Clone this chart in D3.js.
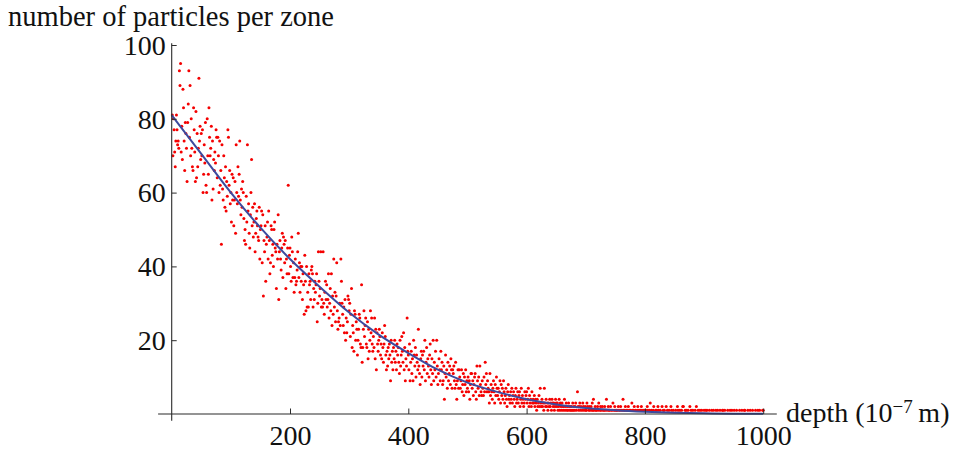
<!DOCTYPE html>
<html>
<head>
<meta charset="utf-8">
<script src="https://cdn.jsdelivr.net/npm/d3@7"></script>
<style>
  html, body { margin: 0; padding: 0; background: #fff; }
  svg text { font-family: "Liberation Serif", "Times New Roman", serif; fill: #111; }
</style>
</head>
<body>
<div id="chart"></div>
<script>
// particles counted per depth zone, zone depth = index + 1 (units of 1e-7 m)
var particleCounts = [
    81, 70, 80, 77, 71, 67, 74, 81, 77, 73, 74, 72, 93, 89, 95, 71, 78, 69, 88, 83, 74, 66, 79, 76, 72,
    63, 79, 84, 93, 75, 89, 70, 80, 72, 67, 66, 83, 77, 71, 63, 82, 64, 76, 67, 72, 91, 74, 78, 69, 76,
    70, 77, 60, 65, 73, 68, 79, 62, 60, 80, 70, 65, 83, 75, 70, 72, 78, 58, 74, 61, 69, 66, 71, 68, 77,
    75, 64, 75, 70, 60, 74, 62, 66, 46, 73, 61, 58, 70, 64, 56, 67, 55, 63, 59, 77, 75, 62, 66, 57, 60,
    52, 65, 58, 64, 51, 58, 63, 49, 73, 60, 57, 67, 59, 65, 74, 58, 54, 61, 56, 63, 60, 53, 47, 50, 46,
    59, 52, 73, 55, 57, 49, 45, 54, 60, 69, 51, 56, 48, 52, 57, 44, 49, 53, 55, 51, 48, 47, 56, 42, 50,
    51, 55, 41, 54, 32, 47, 44, 51, 36, 46, 48, 52, 42, 55, 47, 38, 41, 51, 50, 43, 46, 40, 50, 52, 45,
    44, 34, 46, 42, 54, 31, 44, 47, 42, 39, 45, 49, 37, 48, 46, 41, 47, 34, 42, 38, 45, 62, 38, 43, 45,
    40, 36, 48, 44, 37, 41, 33, 37, 42, 35, 36, 39, 44, 49, 37, 41, 33, 40, 36, 40, 31, 38, 35, 27, 43,
    36, 28, 40, 29, 33, 29, 38, 35, 36, 31, 39, 40, 38, 29, 34, 31, 36, 33, 35, 38, 25, 30, 44, 36, 32,
    34, 44, 29, 31, 29, 44, 30, 27, 33, 36, 31, 35, 29, 31, 38, 26, 30, 34, 28, 38, 24, 32, 27, 42, 29,
    33, 25, 32, 41, 28, 23, 25, 26, 30, 24, 42, 36, 30, 27, 24, 29, 22, 31, 20, 26, 22, 25, 32, 31, 28,
    30, 21, 27, 34, 18, 24, 22, 17, 28, 27, 20, 25, 23, 16, 20, 23, 27, 26, 19, 18, 35, 14, 18, 23, 28,
    21, 24, 26, 19, 18, 25, 15, 23, 17, 20, 28, 22, 26, 19, 17, 21, 18, 26, 15, 23, 12, 22, 19, 17, 20,
    23, 21, 16, 19, 15, 22, 18, 14, 19, 24, 21, 16, 12, 17, 13, 18, 15, 19, 16, 9, 20, 14, 17, 12, 18,
    15, 20, 14, 17, 12, 19, 16, 18, 14, 11, 20, 13, 16, 21, 17, 14, 22, 12, 18, 9, 15, 13, 26, 17, 16,
    12, 19, 9, 14, 17, 11, 15, 9, 20, 16, 13, 18, 10, 16, 14, 12, 23, 13, 11, 8, 15, 17, 10, 16, 13,
    17, 12, 20, 9, 14, 18, 11, 15, 13, 10, 16, 19, 12, 8, 15, 11, 20, 9, 14, 12, 17, 10, 20, 13, 8,
    11, 15, 12, 9, 17, 12, 14, 8, 9, 13, 4, 11, 16, 10, 12, 7, 14, 9, 11, 13, 8, 15, 12, 7, 12,
    11, 13, 9, 7, 14, 8, 4, 9, 12, 7, 12, 10, 7, 9, 12, 6, 8, 11, 5, 10, 8, 12, 6, 9, 7,
    10, 6, 9, 4, 8, 11, 11, 7, 9, 5, 8, 10, 11, 6, 4, 13, 9, 7, 10, 5, 13, 8, 6, 5, 9,
    7, 5, 10, 6, 14, 8, 11, 6, 9, 7, 6, 3, 11, 5, 8, 6, 4, 7, 9, 6, 3, 8, 5, 10, 7,
    5, 7, 4, 6, 9, 3, 8, 5, 7, 4, 9, 6, 3, 5, 7, 4, 2, 6, 8, 4, 5, 3, 6, 4, 7,
    3, 5, 6, 4, 2, 5, 7, 3, 4, 6, 3, 5, 6, 2, 4, 7, 3, 5, 4, 2, 3, 6, 4, 5, 6,
    3, 4, 7, 2, 5, 3, 4, 2, 6, 3, 4, 3, 5, 2, 4, 3, 1, 4, 2, 3, 5, 2, 7, 3, 2,
    4, 2, 3, 1, 7, 3, 2, 4, 2, 3, 1, 3, 2, 4, 2, 3, 1, 4, 3, 2, 3, 1, 2, 4, 3,
    2, 3, 1, 2, 4, 1, 3, 2, 1, 3, 2, 1, 2, 4, 1, 2, 3, 1, 2, 1, 3, 2, 1, 2, 1,
    2, 1, 3, 1, 2, 1, 2, 3, 1, 0, 6, 2, 1, 2, 3, 1, 2, 0, 1, 3, 2, 1, 0, 2, 1,
    1, 3, 2, 0, 1, 2, 1, 0, 2, 1, 3, 1, 4, 1, 0, 2, 1, 1, 0, 2, 1, 3, 0, 1, 2,
    1, 0, 2, 1, 0, 1, 2, 1, 0, 4, 1, 0, 2, 1, 1, 0, 2, 1, 0, 1, 3, 0, 1, 2, 1,
    0, 1, 1, 0, 2, 1, 0, 1, 2, 0, 1, 0, 4, 1, 0, 1, 2, 0, 1, 0, 1, 2, 0, 1, 0,
    1, 0, 3, 1, 0, 1, 2, 0, 1, 0, 0, 1, 2, 0, 1, 0, 1, 0, 2, 1, 0, 0, 1, 0, 1,
    0, 1, 0, 2, 1, 0, 0, 1, 3, 0, 1, 0, 0, 1, 2, 0, 0, 1, 0, 1, 0, 2, 1, 0, 0,
    1, 0, 0, 2, 0, 1, 0, 1, 0, 0, 2, 0, 1, 0, 0, 1, 0, 0, 2, 1, 0, 0, 1, 0, 0,
    0, 1, 0, 0, 2, 1, 0, 0, 1, 0, 0, 1, 0, 2, 2, 0, 0, 1, 0, 1, 0, 0, 1, 0, 0,
    2, 0, 1, 0, 0, 1, 0, 0, 0, 1, 0, 2, 0, 0, 1, 0, 0, 1, 0, 0, 1, 0, 0, 0, 1,
    0, 0, 1, 0, 1, 0, 0, 0, 1, 0, 0, 0, 1, 0, 0, 1, 0, 0, 0, 1, 0, 0, 1, 0, 0,
    0, 1, 0, 0, 0, 1, 1, 0, 0, 1, 0, 0, 0, 0, 1, 0, 0, 0, 1, 0, 0, 1, 0, 0, 0,
    1, 0, 0, 0, 1, 0, 0, 0, 0, 1, 0, 0, 0, 1, 0, 0, 0, 1, 1, 0, 0, 0, 0, 1, 0,
    0, 0, 1, 0, 0, 0, 1, 0, 0, 0, 0, 1, 0, 0, 0, 1, 0, 0, 1, 0, 0, 0, 0, 1, 1
];

// fitted curve
var fitDepth = [0, 50, 100, 150, 200, 250, 300, 350, 400, 450, 500, 550, 600, 650, 700, 750, 800, 850, 900, 950, 1000];
var fitValue = [81, 70.5, 60, 50.5, 42, 34.5, 27.5, 21.5, 16.5, 12, 8.5, 6, 4, 2.6, 1.6, 1.0, 0.6, 0.35, 0.2, 0.1, 0.05];

// axis ticks
var xMajorTicks = [200, 400, 600, 800, 1000];
var xMinorTicks = d3.range(50, 1001, 50).filter(function (t) { return t % 200 !== 0; });
var yMajorTicks = [20, 40, 60, 80, 100];
var yMinorTicks = d3.range(5, 101, 5).filter(function (t) { return t % 20 !== 0; });

var width = 954,
    height = 450;

var fontFamily = "'Liberation Serif', 'Times New Roman', serif";

var svg = d3.select("#chart")
    .append("svg")
    .attr("width", width)
    .attr("height", height);

var x = d3.scaleLinear().domain([0, 1000]).range([171.7, 763.2]);
var y = d3.scaleLinear().domain([0, 100]).range([414, 45]);

var axisColor = "#2b2b2b";

// scatter of counts (empty zones sit under the axis)
var points = particleCounts
    .map(function (v, i) { return { depth: i + 1, count: v }; })
    .filter(function (d) { return d.count > 0; });

svg.append("g")
    .selectAll("circle")
    .data(points)
    .enter().append("circle")
    .attr("cx", function (d) { return x(d.depth); })
    .attr("cy", function (d) { return y(d.count); })
    .attr("r", 1.5)
    .style("fill", "#f40000");

// fit line
var fit = fitDepth.map(function (d, i) { return [d, fitValue[i]]; });
svg.append("path")
    .datum(fit)
    .attr("d", d3.line()
        .x(function (d) { return x(d[0]); })
        .y(function (d) { return y(d[1]); })
        .curve(d3.curveMonotoneX))
    .style("fill", "none")
    .style("stroke", "#3d4a9e")
    .style("stroke-width", 2);

// x axis: major ticks with labels, minor ticks, ticks point inward
var gx = svg.append("g").attr("transform", "translate(0," + y(0) + ")");
gx.call(d3.axisBottom(x).tickValues(xMinorTicks).tickSize(-3.5).tickFormat(""));
gx.call(d3.axisBottom(x).tickValues(xMajorTicks).tickSize(-5.5).tickPadding(0).tickFormat(d3.format("d")));
gx.selectAll(".domain").remove();
gx.selectAll("line").attr("stroke", axisColor);
gx.selectAll("text")
    .attr("dy", null)
    .attr("y", 31)
    .style("font-size", "28px")
    .style("font-family", fontFamily)
    .style("fill", "#111");

var gy = svg.append("g").attr("transform", "translate(" + x(0) + ",0)");
gy.call(d3.axisLeft(y).tickValues(yMinorTicks).tickSize(-2.5).tickFormat(""));
gy.call(d3.axisLeft(y).tickValues(yMajorTicks).tickSize(-5).tickPadding(0).tickFormat(d3.format("d")));
gy.selectAll(".domain").remove();
gy.selectAll("line").attr("stroke", axisColor);
gy.selectAll("text")
    .attr("x", -6)
    .attr("dy", "0.33em")
    .style("font-size", "28px")
    .style("font-family", fontFamily)
    .style("fill", "#111");

// axis lines, extended past the origin like the original
svg.append("line")
    .attr("x1", x(-23)).attr("x2", x(1023))
    .attr("y1", y(0)).attr("y2", y(0))
    .style("stroke", axisColor).style("stroke-width", 1.1);
svg.append("line")
    .attr("x1", x(0)).attr("x2", x(0))
    .attr("y1", y(-1.8)).attr("y2", y(100.5))
    .style("stroke", axisColor).style("stroke-width", 1.1);

// axis titles
svg.append("text")
    .attr("x", 8)
    .attr("y", 26)
    .style("font-size", "28.5px")
    .text("number of particles per zone");

var xt = svg.append("text")
    .attr("x", 786)
    .attr("y", 422)
    .style("font-size", "28px");
xt.append("tspan").text("depth (10");
xt.append("tspan").attr("dy", -9).style("font-size", "19px").text("\u22127");
xt.append("tspan").attr("dy", 9).text("\u2009m)");
</script>
</body>
</html>
